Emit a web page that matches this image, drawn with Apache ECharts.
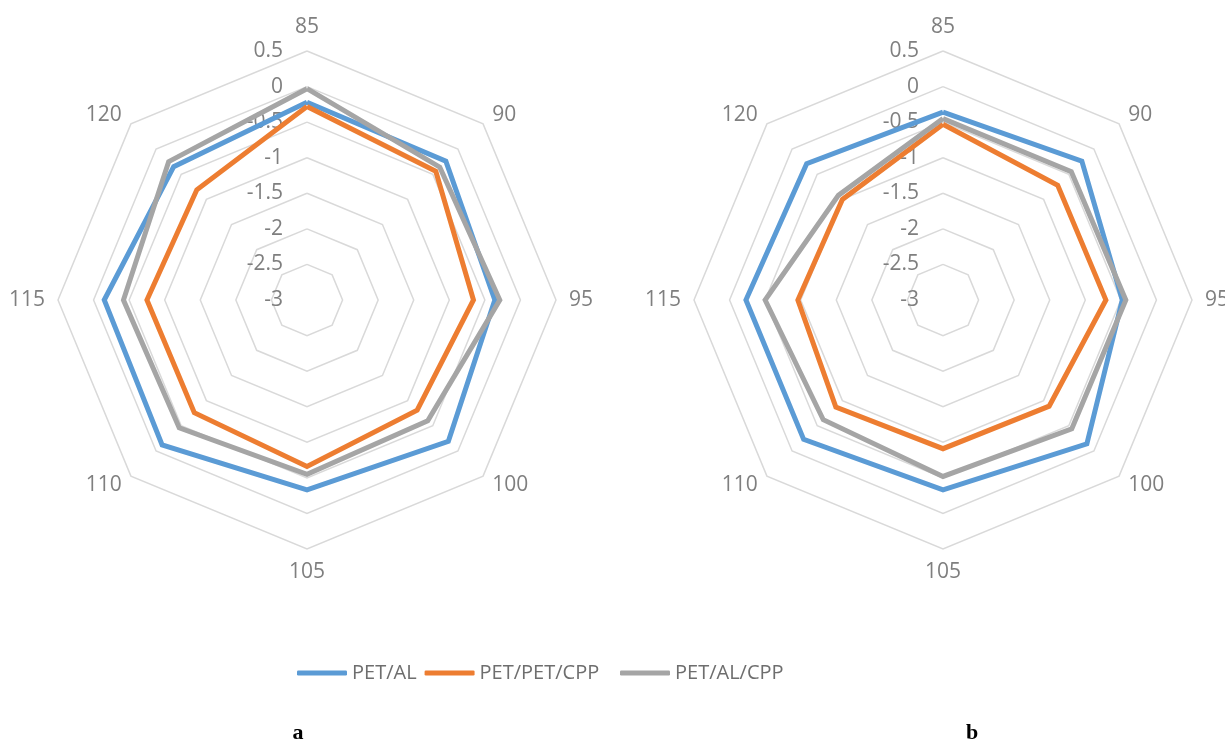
<!DOCTYPE html>
<html>
<head>
<meta charset="utf-8">
<script src="https://cdn.jsdelivr.net/npm/echarts@6/dist/echarts.min.js"></script>
<style>
html,body{margin:0;padding:0;background:#fff;}
#chart{width:1225px;height:745px;}
</style>
</head>
<body>
<div id="chart"></div>
<script>
// Indicator categories (clockwise from top)
const categories = ['85', '90', '95', '100', '105', '110', '115', '120'];
const seriesNames = ['PET/AL', 'PET/PET/CPP', 'PET/AL/CPP'];
const tickMin = -3;
const tickMax = 0.5;

// Panel a
const aPetAl      = [-0.22, -0.24, -0.36, -0.19, -0.33, -0.12, -0.15, -0.35];
const aPetPetCpp  = [-0.28, -0.44, -0.66, -0.81, -0.66, -0.76, -0.75, -0.81];
const aPetAlCpp   = [-0.03, -0.36, -0.29, -0.60, -0.55, -0.46, -0.42, -0.25];

// Panel b
const bPetAl      = [-0.36, -0.24, -0.48, -0.14, -0.33, -0.23, -0.23, -0.29];
const bPetPetCpp  = [-0.53, -0.72, -0.71, -0.89, -0.91, -0.87, -0.96, -1.00];
const bPetAlCpp   = [-0.45, -0.45, -0.43, -0.44, -0.52, -0.62, -0.50, -0.92];

const panelLabels = ['a', 'b'];
const colors = ['#5b9bd5', '#ed7d31', '#a5a5a5'];

// ECharts radar runs counter-clockwise; reorder so the chart reads clockwise
const order = [0].concat(categories.map((_, i) => i).slice(1).reverse());
const reorder = arr => order.map(i => arr[i]);

const font = '"Open Sans", "Liberation Sans", sans-serif';

function makeRadar(center) {
  return {
    center: center,
    radius: 249,
    startAngle: 90,
    shape: 'polygon',
    splitNumber: 7,
    indicator: order.map((i, k) => {
      const ind = { name: categories[i], min: tickMin, max: tickMax };
      if (k === 0) ind.axisLabel = { show: true };
      return ind;
    }),
    axisName: { color: '#7f7f7f', fontSize: 21, fontFamily: font },
    nameGap: 13,
    axisLine: { show: false },
    axisTick: { show: false },
    axisLabel: {
      show: false, color: '#7f7f7f', fontSize: 21, fontFamily: font,
      margin: 24, align: 'right'
    },
    splitLine: { lineStyle: { color: '#d9d9d9', width: 1.5 } },
    splitArea: { show: false }
  };
}

function makeSeries(radarIndex, arrs) {
  return {
    type: 'radar',
    radarIndex: radarIndex,
    symbol: 'none',
    data: arrs.map((arr, j) => ({
      name: seriesNames[j],
      value: reorder(arr),
      itemStyle: { color: colors[j] },
      lineStyle: { color: colors[j], width: 5, join: 'miter' }
    }))
  };
}

const legendBase = {
  top: 663,
  padding: 0,
  icon: 'roundRect',
  itemWidth: 50,
  itemHeight: 5,
  itemGap: 8,
  textStyle: { color: '#6e6e6e', fontSize: 20, fontFamily: font }
};

const titleStyle = { fontFamily: '"Liberation Serif", serif', fontWeight: 'bold', fontSize: 22, color: '#000' };

const chart = echarts.init(document.getElementById('chart'));
chart.setOption({
  animation: false,
  title: [
    { text: panelLabels[0], left: 298, top: 722, textAlign: 'center', padding: 0, textStyle: titleStyle },
    { text: panelLabels[1], left: 972, top: 722, textAlign: 'center', padding: 0, textStyle: titleStyle }
  ],
  legend: [
    Object.assign({}, legendBase, { left: 297, data: seriesNames.slice(0, 2) }),
    Object.assign({}, legendBase, { left: 620, data: seriesNames.slice(2) })
  ],
  radar: [makeRadar([307, 300]), makeRadar([943, 300])],
  series: [
    makeSeries(0, [aPetAl, aPetPetCpp, aPetAlCpp]),
    makeSeries(1, [bPetAl, bPetPetCpp, bPetAlCpp])
  ]
});
</script>
</body>
</html>
